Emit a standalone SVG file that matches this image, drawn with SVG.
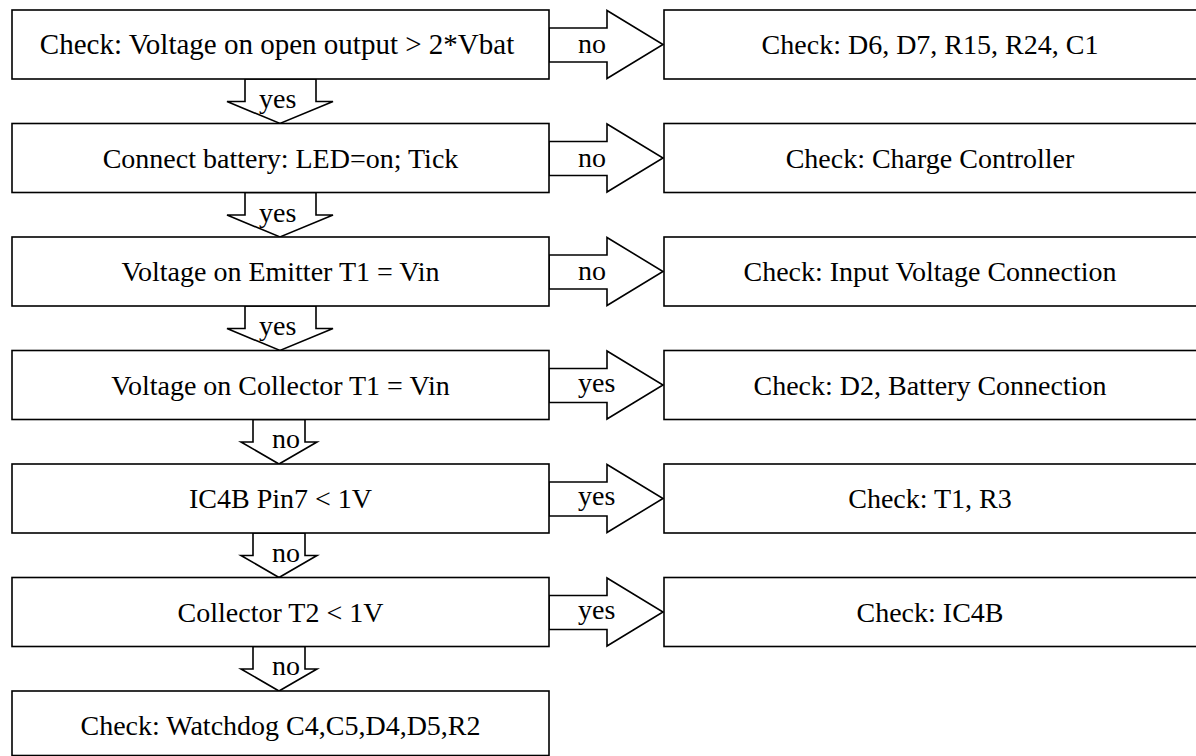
<svg xmlns="http://www.w3.org/2000/svg" width="1196" height="756" viewBox="0 0 1196 756">
<style>
.box{fill:#fff;stroke:#000;stroke-width:1.6}
.arr{fill:#fff;stroke:#000;stroke-width:1.6;stroke-linejoin:miter}
text{font-family:"Liberation Serif","Times New Roman",serif;font-size:28px;fill:#000}
.c{text-anchor:middle}
</style>
<rect width="1196" height="756" fill="#fff"/>
<g id="connectors">
  <polygon class="arr" points="549,28 607,28 607,10.5 663,44.5 607,78.5 607,62 549,62"/>
  <text x="578" y="53">no</text>
  <polygon class="arr" points="549,141.5 607,141.5 607,124 663,158 607,192 607,175.5 549,175.5"/>
  <text x="578" y="167">no</text>
  <polygon class="arr" points="549,255 607,255 607,237.5 663,271.5 607,305.5 607,289 549,289"/>
  <text x="578" y="280">no</text>
  <polygon class="arr" points="549,368.5 607,368.5 607,351 663,385 607,419 607,402.5 549,402.5"/>
  <text x="578" y="392">yes</text>
  <polygon class="arr" points="549,482 607,482 607,464.5 663,498.5 607,532.5 607,516 549,516"/>
  <text x="578" y="505">yes</text>
  <polygon class="arr" points="549,595.5 607,595.5 607,578 663,612 607,646 607,629.5 549,629.5"/>
  <text x="578" y="619">yes</text>

  <polygon class="arr" points="245,79 316,79 316,101.5 333,101.5 280,123.5 227,101.5 245,101.5"/>
  <text x="259" y="108">yes</text>
  <polygon class="arr" points="245,192.5 316,192.5 316,215 333,215 280,237 227,215 245,215"/>
  <text x="259" y="221.5">yes</text>
  <polygon class="arr" points="245,306 316,306 316,328.5 333,328.5 280,350.5 227,328.5 245,328.5"/>
  <text x="259" y="335">yes</text>
  <polygon class="arr" points="253,419.5 305,419.5 305,442 317,442 279,464 241,442 253,442"/>
  <text x="272" y="448">no</text>
  <polygon class="arr" points="253,533 305,533 305,555.5 317,555.5 279,577.5 241,555.5 253,555.5"/>
  <text x="272" y="561.5">no</text>
  <polygon class="arr" points="253,646.5 305,646.5 305,669 317,669 279,691 241,669 253,669"/>
  <text x="272" y="675">no</text>
</g>
<g id="n1"><rect class="box" x="12" y="10" width="537" height="69"/><text class="c" x="277" y="54" style="font-size:29px">Check: Voltage on open output &gt; 2*Vbat</text></g>
<g id="n2"><rect class="box" x="12" y="123.5" width="537" height="69"/><text class="c" x="280.5" y="167.5">Connect battery: LED=on; Tick</text></g>
<g id="n3"><rect class="box" x="12" y="237" width="537" height="69"/><text class="c" x="280.5" y="281">Voltage on Emitter T1 = Vin</text></g>
<g id="n4"><rect class="box" x="12" y="350.5" width="537" height="69"/><text class="c" x="280.5" y="394.5">Voltage on Collector T1 = Vin</text></g>
<g id="n5"><rect class="box" x="12" y="464" width="537" height="69"/><text class="c" x="280.5" y="508">IC4B Pin7 &lt; 1V</text></g>
<g id="n6"><rect class="box" x="12" y="577.5" width="537" height="69"/><text class="c" x="280.5" y="621.5">Collector T2 &lt; 1V</text></g>
<g id="n7"><rect class="box" x="12" y="691" width="537" height="64.5"/><text class="c" x="280.5" y="735">Check: Watchdog C4,C5,D4,D5,R2</text></g>
<g id="r1"><rect class="box" x="664" y="10" width="540" height="69"/><text class="c" x="930" y="54">Check: D6, D7, R15, R24, C1</text></g>
<g id="r2"><rect class="box" x="664" y="123.5" width="540" height="69"/><text class="c" x="930" y="167.5">Check: Charge Controller</text></g>
<g id="r3"><rect class="box" x="664" y="237" width="540" height="69"/><text class="c" x="930" y="281">Check: Input Voltage Connection</text></g>
<g id="r4"><rect class="box" x="664" y="350.5" width="540" height="69"/><text class="c" x="930" y="394.5">Check: D2, Battery Connection</text></g>
<g id="r5"><rect class="box" x="664" y="464" width="540" height="69"/><text class="c" x="930" y="508">Check: T1, R3</text></g>
<g id="r6"><rect class="box" x="664" y="577.5" width="540" height="69"/><text class="c" x="930" y="621.5">Check: IC4B</text></g>
</svg>
